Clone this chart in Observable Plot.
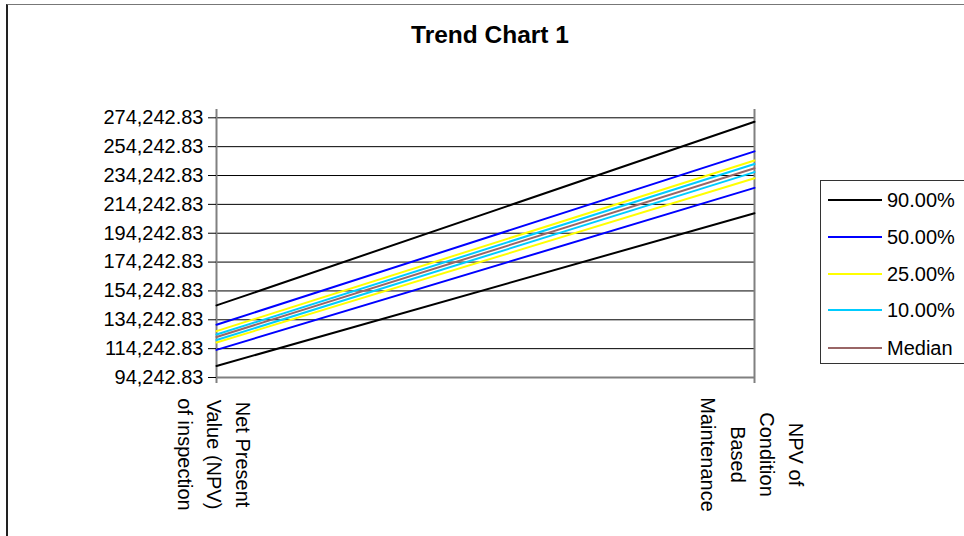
<!DOCTYPE html>
<html>
<head>
<meta charset="utf-8">
<script src="https://cdn.jsdelivr.net/npm/d3@7"></script>
<script src="https://cdn.jsdelivr.net/npm/@observablehq/plot@0.6"></script>
<style>
  html, body { margin: 0; padding: 0; background: #fff; }
  body { width: 964px; height: 536px; position: relative; overflow: hidden; font-family: "Liberation Sans", Arial, sans-serif; }
  #frame { position: absolute; left: 6px; top: 4px; width: 1000px; height: 600px; border-left: 2px solid #222; border-top: 1px solid #777; box-sizing: border-box; pointer-events: none; }
  #title { position: absolute; left: 0; width: 980px; top: 22px; text-align: center; font-weight: bold; font-size: 24.5px; line-height: 25px; color: #000; }
  #legend { position: absolute; left: 820px; top: 180px; width: 180px; height: 184px; border: 1.5px solid #333; box-sizing: border-box; background: #fff; }
  .sw { position: absolute; left: 7px; width: 54px; height: 2px; }
  .lab { position: absolute; left: 66px; font-size: 20px; line-height: 24px; white-space: nowrap; color: #000; }
  #chart { position: absolute; left: 0; top: 0; }
</style>
</head>
<body>
<div id="chart"></div>
<div id="frame"></div>
<div id="title">Trend Chart 1</div>
<div id="legend"></div>
<script>
// Categories (x axis)
const categories = [
  "Net Present\nValue (NPV)\nof inspection",
  "NPV of\nCondition\nBased\nMaintenance"
];
// Y tick values
const yTicks = [94242.83, 114242.83, 134242.83, 154242.83, 174242.83, 194242.83, 214242.83, 234242.83, 254242.83, 274242.83];

// Series values (left category, right category)
const upper90 = [144200, 271500];
const lower90 = [102200, 208100];
const upper50 = [130800, 251000];
const lower50 = [113400, 225700];
const upper25 = [126400, 244700];
const lower25 = [118500, 232300];
const upper10 = [124000, 242200];
const lower10 = [120200, 236600];
const median  = [122300, 239300];

const seriesNames = ["90.00%", "50.00%", "25.00%", "10.00%", "Median"];
const seriesColors = ["#000000", "#0000FF", "#FFFF00", "#00CCFF", "#996666"];

const lines = [
  {key: "90 upper", name: "90.00%", values: upper90},
  {key: "90 lower", name: "90.00%", values: lower90},
  {key: "50 upper", name: "50.00%", values: upper50},
  {key: "50 lower", name: "50.00%", values: lower50},
  {key: "25 upper", name: "25.00%", values: upper25},
  {key: "25 lower", name: "25.00%", values: lower25},
  {key: "10 upper", name: "10.00%", values: upper10},
  {key: "10 lower", name: "10.00%", values: lower10},
  {key: "median",   name: "Median", values: median}
];
const colorOf = Object.fromEntries(seriesNames.map((n, i) => [n, seriesColors[i]]));
const rows = lines.flatMap(s => s.values.map((v, i) => ({cat: categories[i], value: v, key: s.key, color: colorOf[s.name]})));

const chart = Plot.plot({
  width: 964,
  height: 536,
  marginLeft: 216,
  marginRight: 210,
  marginTop: 109,
  marginBottom: 159,
  style: {fontFamily: "'Liberation Sans', Arial, sans-serif", fontSize: "20px", color: "#000", background: "transparent", overflow: "visible"},
  x: {type: "point", domain: categories, padding: 0},
  y: {domain: [94242.83, 280000]},
  color: {type: "identity"},
  marks: [
    Plot.ruleY(yTicks.slice(1), {stroke: "#000", strokeWidth: 1}),
    Plot.ruleY(yTicks.slice(0, 1), {stroke: "#808080", strokeWidth: 2}),
    Plot.ruleX(categories, {x: d => d, stroke: "#808080", strokeWidth: 2}),
    Plot.axisX({tickSize: 6, tickFormat: () => "", stroke: "#808080", strokeWidth: 2, label: null}),
    Plot.axisY({ticks: yTicks, tickFormat: d3.format(",.2f"), tickSize: 8, tickPadding: 5, fontSize: 20, label: null, stroke: "#000"}),
    Plot.line(rows, {x: "cat", y: "value", z: "key", stroke: "color", strokeWidth: 2}),
    Plot.text(categories, {x: d => d, text: d => d, frameAnchor: "bottom", dy: 77, rotate: 90, textAnchor: "middle", lineAnchor: "middle", lineHeight: 1.46, fontSize: 20, fill: "#000"})
  ]
});
document.getElementById("chart").appendChild(chart);

// Legend
const legend = document.getElementById("legend");
const rowCenters = [19, 56, 92.5, 129, 166.5];
seriesNames.forEach((n, i) => {
  const sw = document.createElement("div");
  sw.className = "sw";
  sw.style.top = (rowCenters[i] - 1) + "px";
  sw.style.background = seriesColors[i];
  legend.appendChild(sw);
  const lab = document.createElement("div");
  lab.className = "lab";
  lab.style.top = (rowCenters[i] - 12) + "px";
  lab.textContent = n;
  legend.appendChild(lab);
});
</script>
</body>
</html>
